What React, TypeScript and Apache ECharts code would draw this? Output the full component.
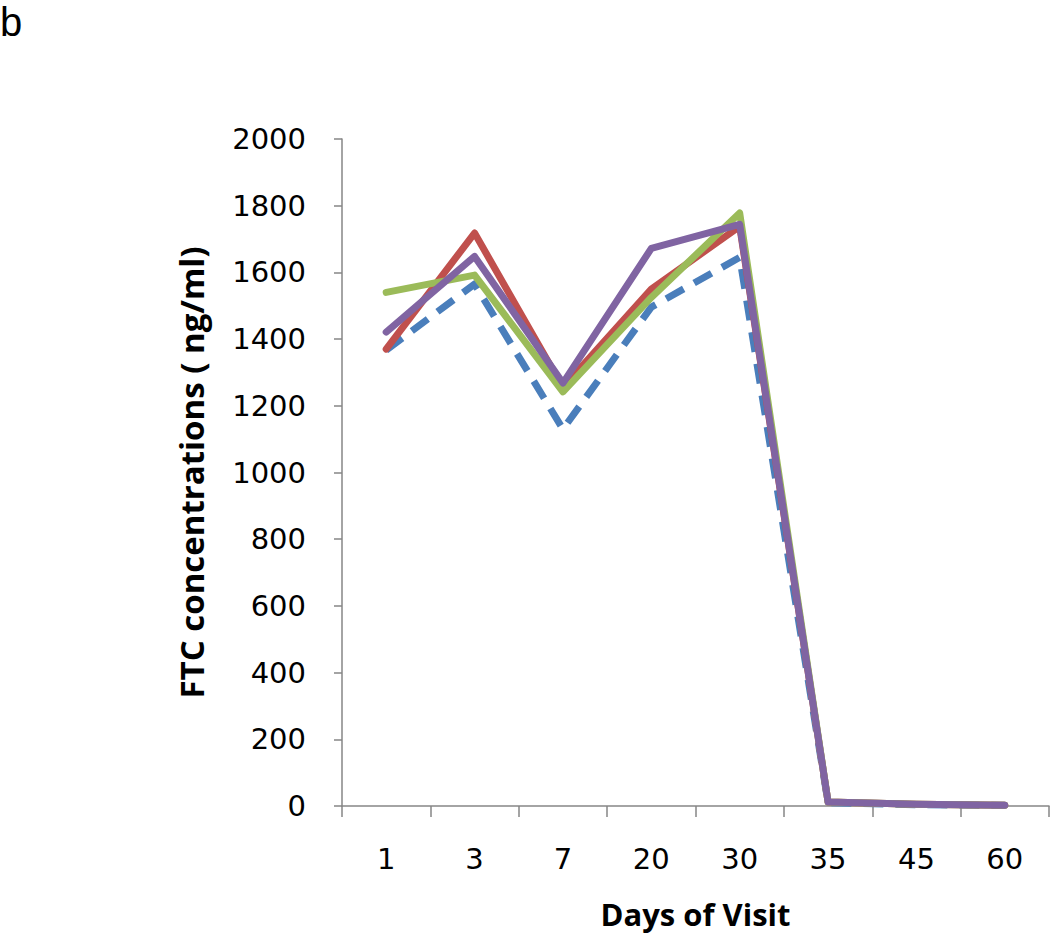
import React, { useEffect, useRef } from "react";
import * as echarts from "echarts";

const days = ["1", "3", "7", "20", "30", "35", "45", "60"];
const seriesBlue = [1367, 1565, 1130, 1496, 1645, 10, 4, 2];
const seriesRed = [1370, 1718, 1255, 1550, 1738, 12, 5, 2];
const seriesGreen = [1540, 1592, 1242, 1525, 1778, 12, 5, 2];
const seriesPurple = [1421, 1648, 1268, 1672, 1744, 12, 5, 2];
const yTicks = { min: 0, max: 2000, interval: 200 };

export default function App() {
  const ref = useRef<HTMLDivElement>(null);
  useEffect(() => {
    if (!ref.current) return;
    const chart = echarts.init(ref.current, null, { renderer: "svg" });
    const lineBase = (data: number[], color: string, dashed = false) => ({
      type: "line",
      data,
      showSymbol: false,
      symbol: "none",
      lineStyle: {
        color,
        width: 7,
        type: dashed ? [20, 12] : "solid",
        cap: dashed ? "butt" : "round",
        join: "round",
      },
      itemStyle: { color },
    });
    chart.setOption({
      animation: false,
      backgroundColor: "#ffffff",
      graphic: [
        {
          type: "text",
          left: 0,
          top: 2,
          style: { text: "b", fontSize: 40, fontFamily: "Liberation Sans", fill: "#000" },
        },
      ],
      grid: { left: 342, top: 139, right: 1, bottom: 130, containLabel: false },
      xAxis: {
        type: "category",
        data: days,
        boundaryGap: true,
        name: "Days of Visit",
        nameLocation: "middle",
        nameGap: 92,
        nameTextStyle: {
          fontFamily: "Open Sans",
          fontWeight: "bold",
          fontSize: 31,
          color: "#000",
          verticalAlign: "top",
        },
        axisLine: { lineStyle: { color: "#868686", width: 1.5 } },
        axisTick: { show: true, alignWithLabel: false, length: 11, lineStyle: { color: "#868686", width: 1.5 } },
        axisLabel: {
          fontFamily: "DejaVu Sans",
          fontSize: 29,
          color: "#000",
          margin: 38,
        },
        splitLine: { show: false },
      },
      yAxis: {
        type: "value",
        min: yTicks.min,
        max: yTicks.max,
        interval: yTicks.interval,
        name: "FTC concentrations ( ng/ml)",
        nameLocation: "middle",
        nameGap: 134,
        nameTextStyle: {
          fontFamily: "Open Sans",
          fontWeight: "bold",
          fontSize: 33,
          color: "#000",
        },
        axisLine: { show: true, lineStyle: { color: "#868686", width: 1.5 } },
        axisTick: { show: true, length: 8, lineStyle: { color: "#868686", width: 1.5 } },
        axisLabel: {
          fontFamily: "DejaVu Sans",
          fontSize: 29,
          color: "#000",
          margin: 36,
          formatter: (v: number) => String(v),
        },
        splitLine: { show: false },
      },
      series: [
        lineBase(seriesBlue, "#4a7ebb", true),
        lineBase(seriesRed, "#c0504d"),
        lineBase(seriesGreen, "#9bbb59"),
        lineBase(seriesPurple, "#8064a2"),
      ],
    });
    return () => chart.dispose();
  }, []);
  return (
    <div
      ref={ref}
      style={{ position: "fixed", left: 0, top: 0, width: 1050, height: 936 }}
    />
  );
}
